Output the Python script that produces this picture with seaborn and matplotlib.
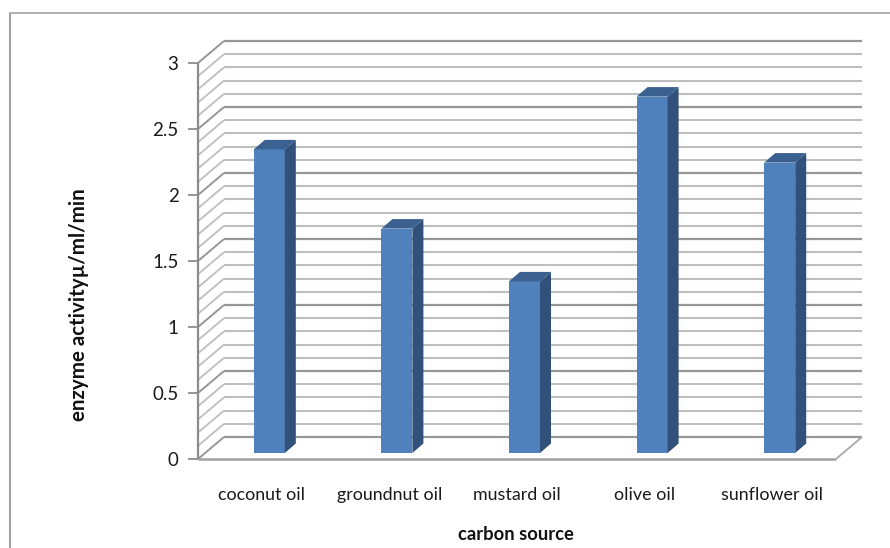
import matplotlib
matplotlib.use("Agg")
import matplotlib.pyplot as plt
import numpy as np
import pandas as pd
import seaborn as sns
from matplotlib.lines import Line2D
from matplotlib.patches import Polygon

sources = ["coconut oil", "groundnut oil", "mustard oil", "olive oil", "sunflower oil"]
activity = [2.3, 1.7, 1.3, 2.7, 2.2]
y_ticks = [0, 0.5, 1, 1.5, 2, 2.5, 3]
y_tick_labels = ["0", "0.5", "1", "1.5", "2", "2.5", "3"]
minor_levels = [i / 10 for i in range(0, 31)]

sns.set_theme(style="white")
plt.rcParams["font.family"] = ["Lato", "DejaVu Sans"]

W, H = 890, 548
fig = plt.figure(figsize=(W / 100, H / 100), dpi=100, facecolor="white")

# Front plane of the pseudo-3D box, in pixels
left, right, base, top = 198, 836, 459, 63
ax = fig.add_axes([left / W, 1 - base / H, (right - left) / W, (base - top) / H])

frame = pd.DataFrame({"source": sources, "activity": activity})
sns.barplot(data=frame, x="source", y="activity", color="#4F81BD", saturation=1,
            width=0.243, ax=ax, zorder=5, linewidth=0)
ax.set_xlim(-0.5, 4.5)
ax.set_ylim(0, 3)

# Depth of the box and of the bars, expressed in data units
x_px = (right - left) / 5
y_px = (base - top) / 3
box_dx, box_dy = 26 / x_px, 22 / y_px
bar_shift_x, bar_shift_y = 7.5 / x_px, 6 / y_px
bar_dx, bar_dy = 11 / x_px, 9.5 / y_px

MAJOR, MINOR = "#969696", "#BEBEBE"
x0, x1 = ax.get_xlim()


def seg(xs, ys, color, lw, z=1):
    ax.add_line(Line2D(xs, ys, color=color, lw=lw, clip_on=False, zorder=z,
                       solid_capstyle="butt"))


for level in minor_levels:
    is_major = abs(level * 2 - round(level * 2)) < 1e-9
    col = MAJOR if is_major else MINOR
    # back wall line
    seg([x0 + box_dx, x1 + box_dx], [level + box_dy] * 2, col, 1.6 if is_major else 1.5)
    # side wall diagonal
    seg([x0, x0 + box_dx], [level, level + box_dy], col, 1.4 if is_major else 1.3)

# Floor outline and the vertical axis
seg([x0, x1], [0, 0], "#A0A0A0", 1.8, z=2)
seg([x1, x1 + box_dx], [0, box_dy], "#A8A8A8", 1.3, z=2)
seg([x0, x0], [0, 3], "#8C8C8C", 1.6, z=2)

# Extrude each bar into a front, top and side face
for patch in ax.patches:
    bx, bw, bh = patch.get_x(), patch.get_width(), patch.get_height()
    bx += bar_shift_x
    patch.set_x(bx)
    patch.set_y(bar_shift_y)
    patch.set_clip_on(False)
    yb, yt = bar_shift_y, bar_shift_y + bh
    ax.add_patch(Polygon([(bx + bw, yb), (bx + bw + bar_dx, yb + bar_dy),
                          (bx + bw + bar_dx, yt + bar_dy), (bx + bw, yt)],
                         closed=True, fc="#31507A", ec="none", clip_on=False, zorder=5))
    ax.add_patch(Polygon([(bx, yt), (bx + bar_dx, yt + bar_dy),
                          (bx + bw + bar_dx, yt + bar_dy), (bx + bw, yt)],
                         closed=True, fc="#3A6190", ec="none", clip_on=False, zorder=5))

for s in ax.spines.values():
    s.set_visible(False)
ax.patch.set_alpha(0)

ax.set_yticks(y_ticks, y_tick_labels, fontsize=13.5, color="#1A1A1A")
ax.tick_params(axis="y", length=7, width=1.3, color="#8C8C8C", pad=7, left=True)
ax.set_xticks(range(len(sources)), sources, fontsize=12.9, color="#1A1A1A")
ax.tick_params(axis="x", length=0, pad=20)

ax.set_xlabel("")
ax.set_ylabel("")
fig.text(516 / W, 1 - 534 / H, "carbon source", fontsize=13.2, fontweight="bold",
         color="#111111", ha="center", va="center")
fig.text(79 / W, 1 - 305 / H, "enzyme activityµ/ml/min", fontsize=14.8, fontweight="bold",
         color="#111111", ha="center", va="center", rotation=90)

# Chart area border, open along the right and bottom
fig.add_artist(Line2D([10 / W, 10 / W], [0, 1 - 13 / H], color="#8E8E8E", lw=1.2))
fig.add_artist(Line2D([10 / W, 1], [1 - 13 / H, 1 - 13 / H], color="#A6A6A6", lw=1.2))

fig.savefig("out.png", dpi=100)
